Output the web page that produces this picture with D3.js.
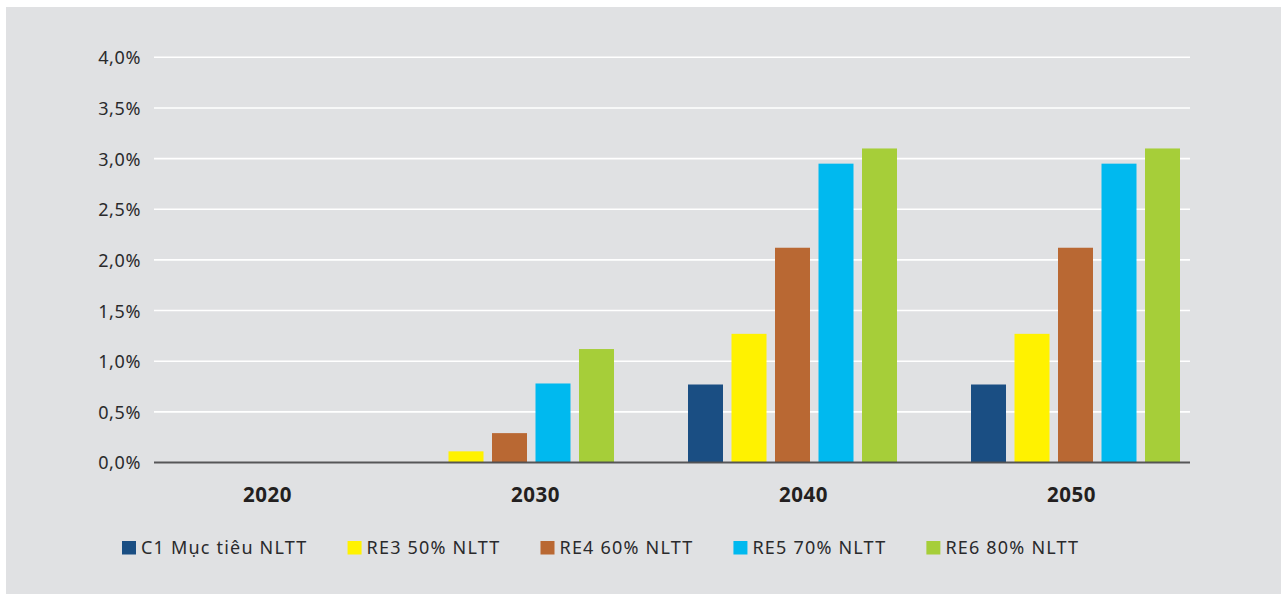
<!DOCTYPE html>
<html>
<head>
<meta charset="utf-8">
<script src="https://cdn.jsdelivr.net/npm/d3@7"></script>
<style>
  html, body { margin: 0; padding: 0; background: #ffffff; }
  svg { display: block; font-family: "Noto Sans", "Open Sans", sans-serif; }
</style>
</head>
<body>
<svg id="chart" width="1284" height="595"></svg>
<script>
// Years on the category axis
const years = ["2020", "2030", "2040", "2050"];

// Scenario names (legend order)
const scenarios = ["C1 Mục tiêu NLTT", "RE3 50% NLTT", "RE4 60% NLTT", "RE5 70% NLTT", "RE6 80% NLTT"];

// Values in percent, one array per scenario, aligned with years
const c1Values  = [0, 0,    0.77, 0.77];
const re3Values = [0, 0.11, 1.27, 1.27];
const re4Values = [0, 0.29, 2.12, 2.12];
const re5Values = [0, 0.78, 2.95, 2.95];
const re6Values = [0, 1.12, 3.10, 3.10];

// Y axis ticks (percent)
const yTicks = [0, 0.5, 1, 1.5, 2, 2.5, 3, 3.5, 4];

const scenarioColors = ["#1a4e83", "#fff200", "#b96833", "#00b9ef", "#a6ce39"];

const seriesValues = [c1Values, re3Values, re4Values, re5Values, re6Values];
const rows = years.map((y, i) => ({
  year: y,
  values: scenarios.map((s, j) => ({ key: s, value: seriesValues[j][i] }))
}));

const svg = d3.select("#chart");

// panel background
svg.append("rect")
  .attr("x", 6).attr("y", 7)
  .attr("width", 1275).attr("height", 587)
  .attr("fill", "#e0e1e3");

const plotLeft = 154, plotRight = 1190;

const y = d3.scaleLinear().domain([0, 4]).range([462.5, 57.3]);

// grouped bands for the bars
const x0 = d3.scaleBand().domain(years).range([122, 1180]).paddingInner(0.2615).paddingOuter(0);
const x1 = d3.scaleBand().domain(scenarios).range([0, x0.bandwidth()]).paddingInner(0.1954).paddingOuter(0);
// category label positions
const xLabel = d3.scalePoint().domain(years).range([267, 1071]);

const color = d3.scaleOrdinal().domain(scenarios).range(scenarioColors);

const locale = d3.formatLocale({ decimal: ",", thousands: ".", grouping: [3], currency: ["", ""] });
const fmt = v => locale.format(".1f")(v) + "%";

// gridlines
svg.append("g")
  .selectAll("line")
  .data(yTicks.filter(t => t > 0))
  .join("line")
  .attr("x1", plotLeft).attr("x2", plotRight)
  .attr("y1", d => y(d)).attr("y2", d => y(d))
  .attr("stroke", "#ffffff")
  .attr("stroke-width", 1.6);

// y axis labels
const yAxis = d3.axisLeft(y).tickValues(yTicks).tickFormat(fmt).tickSize(0).tickPadding(0);
const yAxisG = svg.append("g")
  .attr("transform", "translate(141,0)")
  .call(yAxis);
yAxisG.select(".domain").remove();
yAxisG.selectAll("text")
  .attr("font-family", "'Noto Sans', sans-serif")
  .attr("font-size", 18)
  .attr("letter-spacing", 0.6)
  .attr("fill", "#2a2a2c")
  .attr("dy", "0.36em");

// bars
svg.append("g")
  .selectAll("g")
  .data(rows)
  .join("g")
  .attr("transform", d => `translate(${x0(d.year)},0)`)
  .selectAll("rect")
  .data(d => d.values.filter(v => v.value > 0))
  .join("rect")
  .attr("x", d => x1(d.key))
  .attr("width", x1.bandwidth())
  .attr("y", d => y(d.value))
  .attr("height", d => y(0) - y(d.value))
  .attr("fill", d => color(d.key));

// baseline
svg.append("line")
  .attr("x1", plotLeft).attr("x2", plotRight)
  .attr("y1", y(0)).attr("y2", y(0))
  .attr("stroke", "#4e4e50")
  .attr("stroke-opacity", 0.95)
  .attr("stroke-width", 2);

// category labels
const xAxis = d3.axisBottom(xLabel).tickSize(0).tickPadding(0);
const xAxisG = svg.append("g")
  .attr("transform", "translate(0,501.5)")
  .call(xAxis);
xAxisG.select(".domain").remove();
xAxisG.selectAll("text")
  .attr("font-family", "'Noto Sans', sans-serif")
  .attr("font-size", 20.5)
  .attr("font-weight", 700)
  .attr("letter-spacing", 0.5)
  .attr("fill", "#231f20")
  .attr("dy", 0);

// legend
const legend = svg.append("g").attr("transform", "translate(122,0)");
let cursor = 0;
scenarios.forEach(s => {
  const item = legend.append("g").attr("transform", `translate(${cursor},0)`);
  item.append("rect")
    .attr("x", 0).attr("y", 541)
    .attr("width", 14).attr("height", 13.5)
    .attr("fill", color(s));
  const t = item.append("text")
    .attr("x", 19).attr("y", 554)
    .attr("font-family", "'Noto Sans', sans-serif")
    .attr("font-size", 18)
    .attr("letter-spacing", 1.2)
    .attr("fill", "#2a2a2c")
    .text(s);
  cursor += 19 + t.node().getBBox().width + 40;
});
</script>
</body>
</html>
